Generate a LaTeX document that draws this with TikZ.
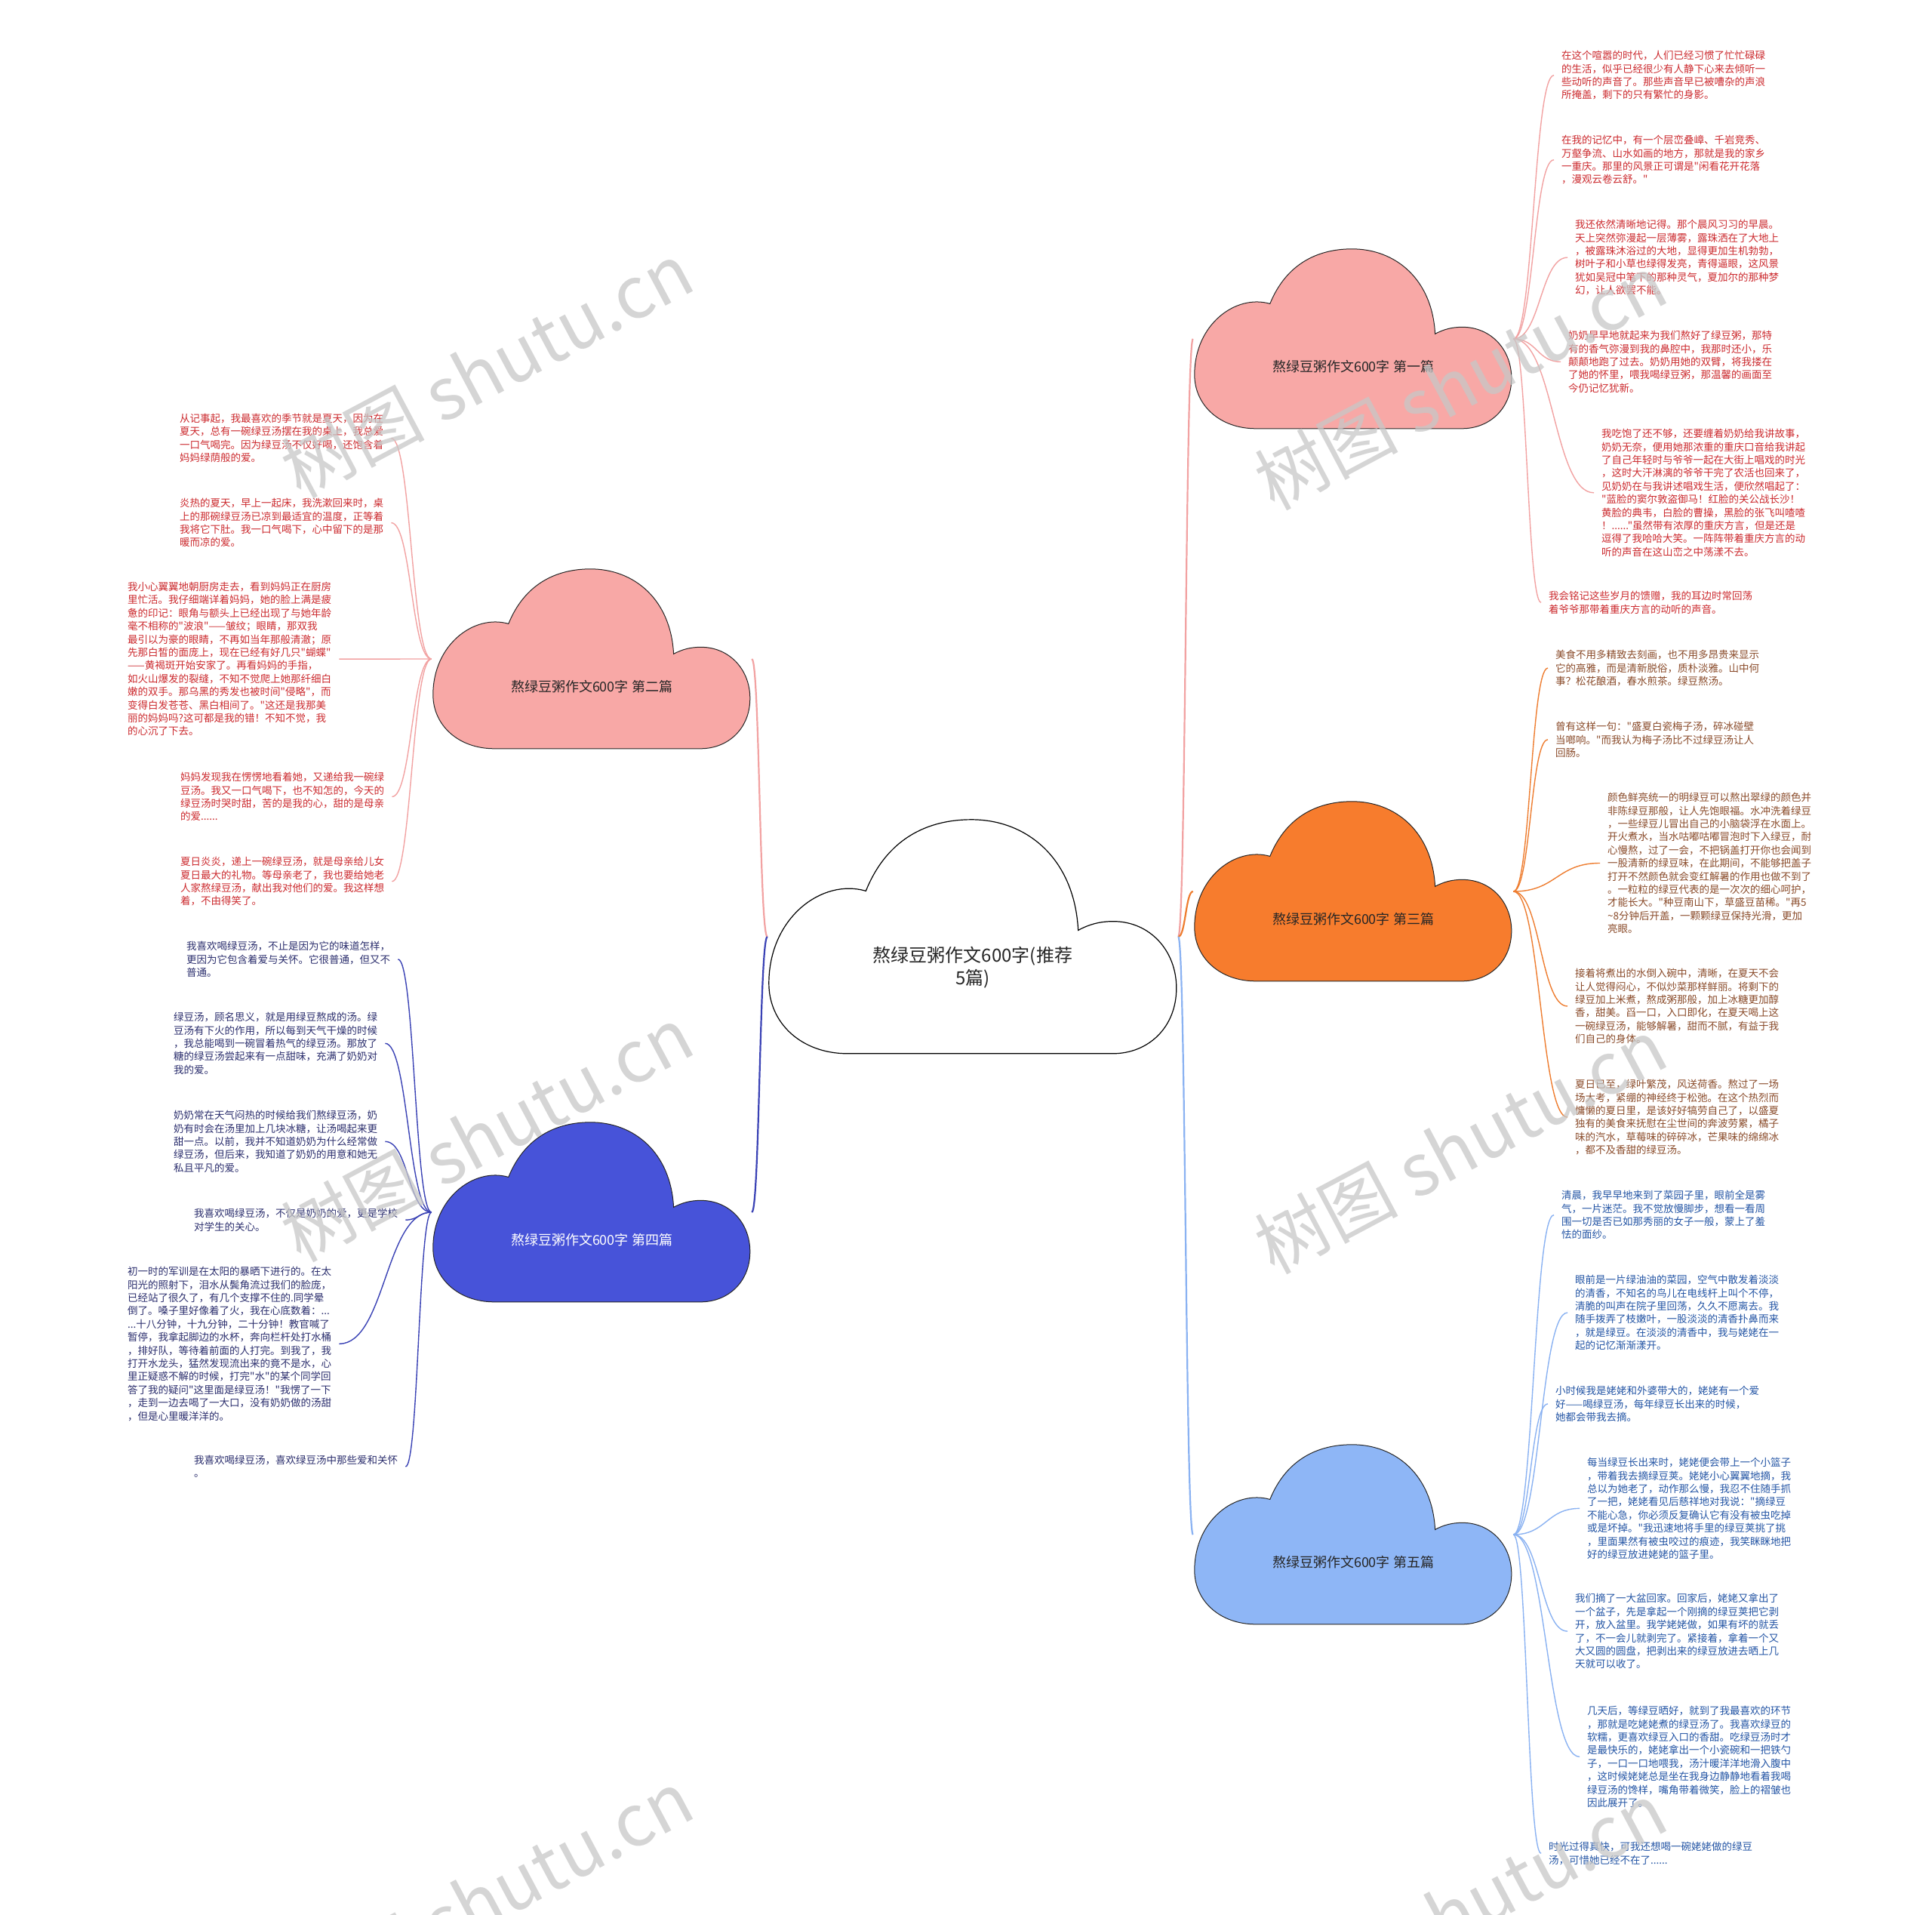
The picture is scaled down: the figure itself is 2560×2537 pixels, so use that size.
\documentclass[tikz,border=0pt]{standalone}
\usepackage{fontspec}
\setmainfont{Noto Sans CJK SC}
\newfontfamily\cjkf{Noto Sans CJK SC}
\usetikzlibrary{calc}
\pgfdeclarelayer{bg}
\pgfdeclarelayer{cl}
\pgfdeclarelayer{fg}
\pgfsetlayers{bg,cl,main,fg}

\definecolor{pinkfill}{HTML}{F8A8A6}
\definecolor{orangefill}{HTML}{F77C2D}
\definecolor{bluefill}{HTML}{4753D9}
\definecolor{lbluefill}{HTML}{8EB6F6}
\definecolor{pinkln}{HTML}{F2A2A2}
\definecolor{orangeln}{HTML}{EE7D30}
\definecolor{blueln}{HTML}{3A42B5}
\definecolor{lblueln}{HTML}{8AB2F2}
\definecolor{redtx}{HTML}{CC2B2F}
\definecolor{browntx}{HTML}{8A4B2A}
\definecolor{navytx}{HTML}{2C2F6E}
\definecolor{bluetx}{HTML}{2455A5}

% #1 style, #2 node name, #3 W, #4 H
\newcommand\drawcloud[4]{%
\begin{pgfonlayer}{cl}
\begin{scope}[shift={($(#2.north west)+(2,2)$)}]
\path[#1] (0,{0.70*#4}) .. controls (0,{0.42*#4}) and ({0.13*#3},{0.25*#4}) .. ({0.238*#3},{0.305*#4})
 .. controls ({0.29*#3},{0.08*#4}) and ({0.39*#3},0) .. ({0.497*#3},0)
 .. controls ({0.635*#3},0) and ({0.75*#3},{0.17*#4}) .. ({0.759*#3},{0.473*#4})
 .. controls ({0.785*#3},{0.448*#4}) and ({0.812*#3},{0.435*#4}) .. ({0.845*#3},{0.435*#4})
 .. controls ({0.935*#3},{0.435*#4}) and (#3,{0.56*#4}) .. (#3,{0.72*#4})
 .. controls (#3,{0.89*#4}) and ({0.93*#3},#4) .. ({0.844*#3},#4)
 -- ({0.193*#3},#4)
 .. controls ({0.08*#3},#4) and (0,{0.87*#4}) .. cycle;
\end{scope}
\end{pgfonlayer}}

\newcommand\conn[3]{\draw[#1] let \p1=(#2), \p2=(#3) in (\p1) .. controls ({0.5*\x1+0.5*\x2},\y1) and ({0.5*\x1+0.5*\x2},\y2) .. (\p2);}

\tikzset{
  centralc/.style={inner sep=0, minimum width=544pt, minimum height=314pt,
    font=\cjkf\fontsize{24}{30}\selectfont, text=black!85},
  branchc/.style={inner sep=0, minimum width=424pt, minimum height=242pt,
    font=\cjkf\fontsize{18}{22}\selectfont, text=black!85},
  cloudline/.style={draw=black!85, line width=1pt},
  leaf/.style={anchor=north west, inner sep=0, align=left, font=\cjkf\fontsize{13.5}{17.4}\selectfont},
  leafR/.style={leaf, text=redtx},
  leafB/.style={leaf, text=browntx},
  leafN/.style={leaf, text=navytx},
  leafL/.style={leaf, text=bluetx},
  mainln/.style={line width=2.2pt},
  leafln/.style={line width=1.4pt},
  wmark/.style={text=black!22, opacity=0.75, font=\cjkf\fontsize{95}{95}\selectfont, inner sep=0}
}

\begin{document}
\begin{tikzpicture}[x=1pt,y=-1pt]
\begin{pgfonlayer}{bg}
\fill[white] (0,0) rectangle (2560,2537);
\end{pgfonlayer}
\useasboundingbox (0,0) rectangle (2560,2537);

% clouds
\node[centralc] (c0) at (1289,1241) {\raisebox{-33pt}[0pt][0pt]{\begin{tabular}[t]{@{}c@{}}熬绿豆粥作文600字(推荐\\5篇)\end{tabular}}};
\node[branchc] (c1) at (1793,449) {\raisebox{-43pt}[0pt][0pt]{熬绿豆粥作文600字 第一篇}};
\node[branchc] (c2) at (784,873) {\raisebox{-43pt}[0pt][0pt]{熬绿豆粥作文600字 第二篇}};
\node[branchc] (c3) at (1793,1181) {\raisebox{-43pt}[0pt][0pt]{熬绿豆粥作文600字 第三篇}};
\node[branchc, text=white] (c4) at (784,1606) {\raisebox{-43pt}[0pt][0pt]{熬绿豆粥作文600字 第四篇}};
\node[branchc] (c5) at (1793,2033) {\raisebox{-43pt}[0pt][0pt]{熬绿豆粥作文600字 第五篇}};
\drawcloud{fill=white,draw=black,line width=1.2pt}{c0}{540}{310}
\drawcloud{fill=pinkfill,cloudline}{c1}{420}{238}
\drawcloud{fill=pinkfill,cloudline}{c2}{420}{238}
\drawcloud{fill=orangefill,cloudline}{c3}{420}{238}
\drawcloud{fill=bluefill,cloudline}{c4}{420}{238}
\drawcloud{fill=lbluefill,cloudline}{c5}{420}{238}

% leaves of 1
\node[leafR] (L11) at (2069,67) {在这个喧嚣的时代，人们已经习惯了忙忙碌碌\\的生活，似乎已经很少有人静下心来去倾听一\\些动听的声音了。那些声音早已被嘈杂的声浪\\所掩盖，剩下的只有繁忙的身影。};
\node[leafR] (L12) at (2069,179) {在我的记忆中，有一个层峦叠嶂、千岩竞秀、\\万壑争流、山水如画的地方，那就是我的家乡\\一重庆。那里的风景正可谓是"闲看花开花落\\，漫观云卷云舒。"};
\node[leafR] (L13) at (2087,291) {我还依然清晰地记得。那个晨风习习的早晨。\\天上突然弥漫起一层薄雾，露珠洒在了大地上\\，被露珠沐浴过的大地，显得更加生机勃勃，\\树叶子和小草也绿得发亮，青得逼眼，这风景\\犹如吴冠中笔下的那种灵气，夏加尔的那种梦\\幻，让人欲罢不能。};
\node[leafR] (L14) at (2078,438) {奶奶早早地就起来为我们熬好了绿豆粥，那特\\有的香气弥漫到我的鼻腔中，我那时还小，乐\\颠颠地跑了过去。奶奶用她的双臂，将我搂在\\了她的怀里，喂我喝绿豆粥，那温馨的画面至\\今仍记忆犹新。};
\node[leafR] (L15) at (2122,568) {我吃饱了还不够，还要缠着奶奶给我讲故事，\\奶奶无奈，便用她那浓重的重庆口音给我讲起\\了自己年轻时与爷爷一起在大街上唱戏的时光\\，这时大汗淋漓的爷爷干完了农活也回来了，\\见奶奶在与我讲述唱戏生活，便欣然唱起了：\\"蓝脸的窦尔敦盗御马！红脸的关公战长沙！\\黄脸的典韦，白脸的曹操，黑脸的张飞叫喳喳\\！......"虽然带有浓厚的重庆方言，但是还是\\逗得了我哈哈大笑。一阵阵带着重庆方言的动\\听的声音在这山峦之中荡漾不去。};
\node[leafR] (L16) at (2052,783) {我会铭记这些岁月的馈赠，我的耳边时常回荡\\着爷爷那带着重庆方言的动听的声音。};

% leaves of 3
\node[leafB] (L31) at (2061,861) {美食不用多精致去刻画，也不用多昂贵来显示\\它的高雅，而是清新脱俗，质朴淡雅。山中何\\事？松花酿酒，春水煎茶。绿豆熬汤。};
\node[leafB] (L32) at (2061,956) {曾有这样一句："盛夏白瓷梅子汤，碎冰碰壁\\当啷响。"而我认为梅子汤比不过绿豆汤让人\\回肠。};
\node[leafB] (L33) at (2130,1050) {颜色鲜亮统一的明绿豆可以熬出翠绿的颜色并\\非陈绿豆那般，让人先饱眼福。水冲洗着绿豆\\，一些绿豆儿冒出自己的小脑袋浮在水面上。\\开火煮水，当水咕嘟咕嘟冒泡时下入绿豆，耐\\心慢熬，过了一会，不把锅盖打开你也会闻到\\一股清新的绿豆味，在此期间，不能够把盖子\\打开不然颜色就会变红解暑的作用也做不到了\\。一粒粒的绿豆代表的是一次次的细心呵护，\\才能长大。"种豆南山下，草盛豆苗稀。"再5\\\textasciitilde 8分钟后开盖，一颗颗绿豆保持光滑，更加\\亮眼。};
\node[leafB] (L34) at (2087,1283) {接着将煮出的水倒入碗中，清晰，在夏天不会\\让人觉得闷心，不似炒菜那样鲜丽。将剩下的\\绿豆加上米煮，熬成粥那般，加上冰糖更加醇\\香，甜美。舀一口，入口即化，在夏天喝上这\\一碗绿豆汤，能够解暑，甜而不腻，有益于我\\们自己的身体。};
\node[leafB] (L35) at (2087,1430) {夏日已至，绿叶繁茂，风送荷香。熬过了一场\\场大考，紧绷的神经终于松弛。在这个热烈而\\慵懒的夏日里，是该好好犒劳自己了，以盛夏\\独有的美食来抚慰在尘世间的奔波劳累，橘子\\味的汽水，草莓味的碎碎冰，芒果味的绵绵冰\\，都不及香甜的绿豆汤。};

% leaves of 5
\node[leafL] (L51) at (2069,1577) {清晨，我早早地来到了菜园子里，眼前全是雾\\气，一片迷茫。我不觉放慢脚步，想看一看周\\围一切是否已如那秀丽的女子一般，蒙上了羞\\怯的面纱。};
\node[leafL] (L52) at (2087,1689) {眼前是一片绿油油的菜园，空气中散发着淡淡\\的清香，不知名的鸟儿在电线杆上叫个不停，\\清脆的叫声在院子里回荡，久久不愿离去。我\\随手拨弄了枝嫩叶，一股淡淡的清香扑鼻而来\\，就是绿豆。在淡淡的清香中，我与姥姥在一\\起的记忆渐渐漾开。};
\node[leafL] (L53) at (2061,1836) {小时候我是姥姥和外婆带大的，姥姥有一个爱\\好——喝绿豆汤，每年绿豆长出来的时候，\\她都会带我去摘。};
\node[leafL] (L54) at (2103,1931) {每当绿豆长出来时，姥姥便会带上一个小篮子\\，带着我去摘绿豆荚。姥姥小心翼翼地摘，我\\总以为她老了，动作那么慢，我忍不住随手抓\\了一把，姥姥看见后慈祥地对我说："摘绿豆\\不能心急，你必须反复确认它有没有被虫吃掉\\或是坏掉。"我迅速地将手里的绿豆荚挑了挑\\，里面果然有被虫咬过的痕迹，我笑眯眯地把\\好的绿豆放进姥姥的篮子里。};
\node[leafL] (L55) at (2087,2111) {我们摘了一大盆回家。回家后，姥姥又拿出了\\一个盆子，先是拿起一个刚摘的绿豆荚把它剥\\开，放入盆里。我学姥姥做，如果有坏的就丢\\了，不一会儿就剥完了。紧接着，拿着一个又\\大又圆的圆盘，把剥出来的绿豆放进去晒上几\\天就可以收了。};
\node[leafL] (L56) at (2103,2260) {几天后，等绿豆晒好，就到了我最喜欢的环节\\，那就是吃姥姥煮的绿豆汤了。我喜欢绿豆的\\软糯，更喜欢绿豆入口的香甜。吃绿豆汤时才\\是最快乐的，姥姥拿出一个小瓷碗和一把铁勺\\子，一口一口地喂我，汤汁暖洋洋地滑入腹中\\，这时候姥姥总是坐在我身边静静地看着我喝\\绿豆汤的馋样，嘴角带着微笑，脸上的褶皱也\\因此展开了。};
\node[leafL] (L57) at (2052,2440) {时光过得真快，可我还想喝一碗姥姥做的绿豆\\汤，可惜她已经不在了......};

% leaves of 2
\node[leafR] (L21) at (238,548) {从记事起，我最喜欢的季节就是夏天，因为在\\夏天，总有一碗绿豆汤摆在我的桌上，我总爱\\一口气喝完。因为绿豆汤不仅好喝，还饱含着\\妈妈绿荫般的爱。};
\node[leafR] (L22) at (238,660) {炎热的夏天，早上一起床，我洗漱回来时，桌\\上的那碗绿豆汤已凉到最适宜的温度，正等着\\我将它下肚。我一口气喝下，心中留下的是那\\暖而凉的爱。};
\node[leafR] (L23) at (169,771) {我小心翼翼地朝厨房走去，看到妈妈正在厨房\\里忙活。我仔细端详着妈妈，她的脸上满是疲\\惫的印记：眼角与额头上已经出现了与她年龄\\毫不相称的"波浪"——皱纹；眼睛，那双我\\最引以为豪的眼睛，不再如当年那般清澈；原\\先那白皙的面庞上，现在已经有好几只"蝴蝶"\\——黄褐斑开始安家了。再看妈妈的手指，\\如火山爆发的裂缝，不知不觉爬上她那纤细白\\嫩的双手。那乌黑的秀发也被时间"侵略"，而\\变得白发苍苍、黑白相间了。"这还是我那美\\丽的妈妈吗?这可都是我的错！不知不觉，我\\的心沉了下去。};
\node[leafR] (L24) at (239,1023) {妈妈发现我在愣愣地看着她，又递给我一碗绿\\豆汤。我又一口气喝下，也不知怎的，今天的\\绿豆汤时哭时甜，苦的是我的心，甜的是母亲\\的爱......};
\node[leafR] (L25) at (239,1135) {夏日炎炎，递上一碗绿豆汤，就是母亲给儿女\\夏日最大的礼物。等母亲老了，我也要给她老\\人家熬绿豆汤，献出我对他们的爱。我这样想\\着，不由得笑了。};

% leaves of 4
\node[leafN] (L41) at (247,1247) {我喜欢喝绿豆汤，不止是因为它的味道怎样，\\更因为它包含着爱与关怀。它很普通，但又不\\普通。};
\node[leafN] (L42) at (230,1341) {绿豆汤，顾名思义，就是用绿豆熬成的汤。绿\\豆汤有下火的作用，所以每到天气干燥的时候\\，我总能喝到一碗冒着热气的绿豆汤。那放了\\糖的绿豆汤尝起来有一点甜味，充满了奶奶对\\我的爱。};
\node[leafN] (L43) at (230,1471) {奶奶常在天气闷热的时候给我们熬绿豆汤，奶\\奶有时会在汤里加上几块冰糖，让汤喝起来更\\甜一点。以前，我并不知道奶奶为什么经常做\\绿豆汤，但后来，我知道了奶奶的用意和她无\\私且平凡的爱。};
\node[leafN] (L44) at (257,1601) {我喜欢喝绿豆汤，不仅是奶奶的爱，更是学校\\对学生的关心。};
\node[leafN] (L45) at (169,1678) {初一时的军训是在太阳的暴晒下进行的。在太\\阳光的照射下，泪水从鬓角流过我们的脸庞，\\已经站了很久了，有几个支撑不住的.同学晕\\倒了。嗓子里好像着了火，我在心底数着：...\\...十八分钟，十九分钟，二十分钟！教官喊了\\暂停，我拿起脚边的水杯，奔向栏杆处打水桶\\，排好队，等待着前面的人打完。到我了，我\\打开水龙头，猛然发现流出来的竟不是水，心\\里正疑惑不解的时候，打完"水"的某个同学回\\答了我的疑问"这里面是绿豆汤！"我愣了一下\\，走到一边去喝了一大口，没有奶奶做的汤甜\\，但是心里暖洋洋的。};
\node[leafN] (L46) at (257,1928) {我喜欢喝绿豆汤，喜欢绿豆汤中那些爱和关怀\\。};

% connectors
\begin{pgfonlayer}{bg}
\conn{mainln,pinkln}{c0.west}{c2.east}
\conn{mainln,blueln}{c0.west}{c4.east}
\conn{mainln,pinkln}{c0.east}{c1.west}
\conn{mainln,orangeln}{c0.east}{c3.west}
\conn{mainln,lblueln}{c0.east}{c5.west}
\foreach \l in {L11,L12,L13,L14,L15,L16}{\conn{leafln,pinkln}{c1.east}{[xshift=-10pt]\l.west}}
\foreach \l in {L31,L32,L33,L34,L35}{\conn{leafln,orangeln}{c3.east}{[xshift=-10pt]\l.west}}
\foreach \l in {L51,L52,L53,L54,L55,L56,L57}{\conn{leafln,lblueln}{c5.east}{[xshift=-10pt]\l.west}}
\foreach \l in {L21,L22,L23,L24,L25}{\conn{leafln,pinkln}{c2.west}{[xshift=10pt]\l.east}}
\foreach \l in {L41,L42,L43,L44,L45,L46}{\conn{leafln,blueln}{c4.west}{[xshift=10pt]\l.east}}
\end{pgfonlayer}

% watermarks
\begin{pgfonlayer}{fg}
\node[wmark, rotate=28] (wm1) at (645,490) {树图 shutu.cn};
\node[wmark, rotate=28] (wm2) at (1935,506) {树图 shutu.cn};
\node[wmark, rotate=28] (wm3) at (645,1502) {树图 shutu.cn};
\node[wmark, rotate=28] (wm4) at (1935,1518) {树图 shutu.cn};
\node[wmark, rotate=28] (wm5) at (645,2514) {树图 shutu.cn};
\node[wmark, rotate=28] (wm6) at (1935,2530) {树图 shutu.cn};
\end{pgfonlayer}
\end{tikzpicture}
\end{document}
